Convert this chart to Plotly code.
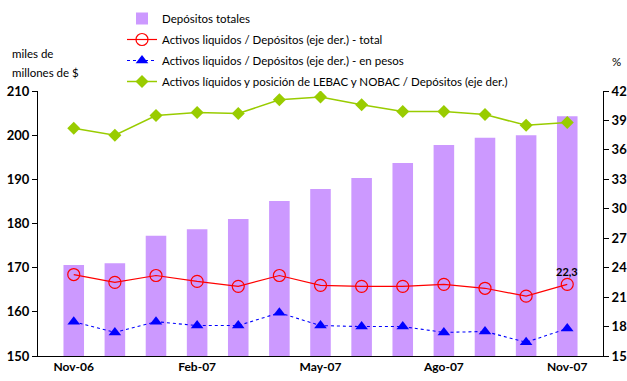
import plotly.graph_objects as go

# Monthly series, Nov-06 .. Nov-07
months = ["Nov-06", "Dic-06", "Ene-07", "Feb-07", "Mar-07", "Abr-07", "May-07",
          "Jun-07", "Jul-07", "Ago-07", "Sep-07", "Oct-07", "Nov-07"]
tick_months = ["Nov-06", "Feb-07", "May-07", "Ago-07", "Nov-07"]

# Total deposits (miles de millones de $), left axis
depositos = [170.6, 171.0, 177.2, 178.7, 181.0, 185.1, 187.8,
             190.3, 193.7, 197.8, 199.4, 200.0, 204.3]

# Ratios (%), right axis
liq_total = [23.3, 22.5, 23.2, 22.6, 22.1, 23.2, 22.2,
             22.1, 22.1, 22.3, 21.9, 21.1, 22.3]
liq_pesos = [18.5, 17.4, 18.5, 18.1, 18.1, 19.4, 18.1,
             18.0, 18.0, 17.4, 17.5, 16.4, 17.8]
liq_lebac = [38.2, 37.5, 39.5, 39.8, 39.7, 41.1, 41.4,
             40.6, 39.9, 39.9, 39.6, 38.5, 38.8]

FONT = "Lato, 'Open Sans', sans-serif"

W, H = 627, 381
ML, MR, MT, MB = 38, 24, 91, 25
PW, PH = W - ML - MR, H - MT - MB


def px_to_paper(xp, yp):
    """Convert a pixel position on the page to paper coordinates."""
    return (xp - ML) / PW, (H - MB - yp) / PH


fig = go.Figure()

fig.add_trace(go.Bar(
    x=months, y=depositos, name="Depósitos totales",
    marker=dict(color="#cc99ff", line=dict(width=0)),
    width=0.5, legendgroup="a", yaxis="y",
))
fig.add_trace(go.Scatter(
    x=months, y=liq_total, name="Activos liquidos / Depósitos (eje der.) - total",
    mode="lines+markers", yaxis="y2", legendgroup="b",
    line=dict(color="#ff0000", width=1.2),
    marker=dict(symbol="circle-open", size=12, color="#ff0000", line=dict(width=1.2)),
))
fig.add_trace(go.Scatter(
    x=months, y=liq_pesos, name="Activos liquidos / Depósitos (eje der.) - en pesos",
    mode="lines+markers", yaxis="y2", legendgroup="c",
    line=dict(color="#0000ff", width=1.1, dash="dot"),
    marker=dict(symbol="triangle-up", size=11, color="#0000ff"),
))
fig.add_trace(go.Scatter(
    x=months, y=liq_lebac,
    name="Activos líquidos y posición de LEBAC y NOBAC / Depósitos (eje der.)",
    mode="lines+markers", yaxis="y2", legendgroup="d",
    line=dict(color="#99cc00", width=1.5),
    marker=dict(symbol="diamond", size=10, color="#99cc00"),
))

# value label on the last point of the total ratio
fig.add_annotation(
    x=months[-1], y=liq_total[-1], xref="x", yref="y2",
    text="<b>%s</b>" % f"{liq_total[-1]:.1f}".replace(".", ","),
    showarrow=False, yshift=13, font=dict(family=FONT, size=11, color="#000"),
)

# axis unit titles
for text, ypix in (("miles de", 53), ("millones de $", 72)):
    ux, uy = px_to_paper(10, ypix)
    fig.add_annotation(
        x=ux, y=uy, xref="paper", yref="paper", text=text,
        showarrow=False, xanchor="left", yanchor="middle",
        font=dict(family=FONT, size=11.5, color="#000"),
    )
px_, py_ = px_to_paper(616, 61)
fig.add_annotation(
    x=px_, y=py_, xref="paper", yref="paper", text="%",
    showarrow=False, xanchor="center", yanchor="middle",
    font=dict(family=FONT, size=11.5, color="#000"),
)

axis_common = dict(
    showgrid=False, zeroline=False, showline=True, linecolor="#000", linewidth=1,
    ticks="outside", ticklen=5, tickcolor="#000",
    tickfont=dict(family=FONT, size=13, color="#000", weight="bold"),
)

fig.update_layout(
    width=W, height=H,
    margin=dict(l=ML, r=MR, t=MT, b=MB, autoexpand=False),
    paper_bgcolor="white", plot_bgcolor="white",
    showlegend=True,
    legend=dict(
        xref="container", yref="container", x=122 / W, y=1 - 4 / H,
        xanchor="left", yanchor="top", bgcolor="rgba(0,0,0,0)",
        font=dict(family=FONT, size=11.5, color="#000"),
        itemwidth=30, tracegroupgap=2, traceorder="grouped",
    ),
    xaxis=dict(
        type="category", categoryorder="array", categoryarray=months,
        tickmode="array", tickvals=tick_months, ticktext=tick_months,
        tickangle=0,
        showline=True, linecolor="#000", linewidth=1, ticks="",
        showgrid=False, zeroline=False,
        tickfont=dict(family=FONT, size=12, color="#000", weight="bold"),
    ),
    yaxis=dict(range=[150, 210], dtick=10, tick0=150, **axis_common),
    yaxis2=dict(range=[15, 42], dtick=3, tick0=15, overlaying="y", side="right",
                **axis_common),
)

fig.write_html("out.html")
